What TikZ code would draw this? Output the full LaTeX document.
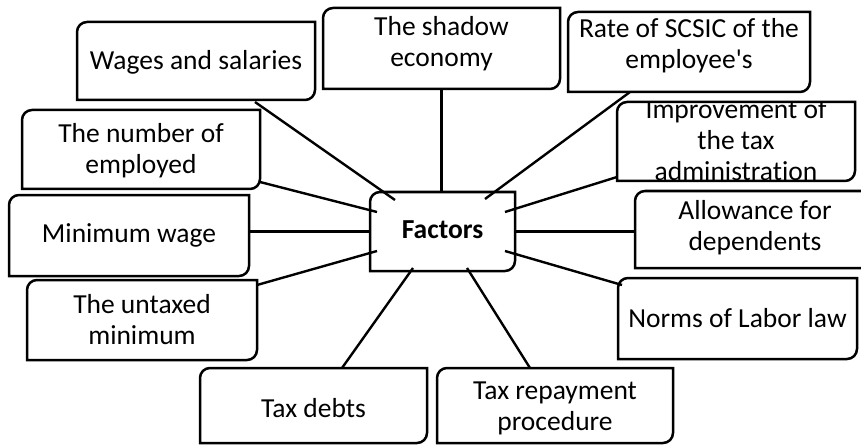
\documentclass[tikz,border=0pt]{standalone}
\usepackage{fontspec}
\setmainfont{Carlito}[Ligatures={TeX,NoCommon}]
\begin{document}
\begin{tikzpicture}[x=1pt,y=1pt,
  frame/.style={rectangle,inner sep=0pt,outer sep=0pt},
  frameline/.style={line width=2.5pt,line join=miter},
  link/.style={line width=2.4pt},
  txt/.style={inner sep=0pt,align=center,font=\fontsize{27.5}{31}\selectfont}]
\newcommand\cornerR{10pt}
% outline with the top-left and bottom-right corners rounded
\newcommand\rdbox[1]{%
  \draw[frameline] ([xshift=\cornerR]#1.north west) -- (#1.north east)
    -- ([yshift=\cornerR]#1.south east) arc[start angle=0,end angle=-90,radius=\cornerR]
    -- (#1.south west) -- ([yshift=-\cornerR]#1.north west)
    arc[start angle=180,end angle=90,radius=\cornerR] -- cycle;}
\useasboundingbox (0,0) rectangle (861,445);

% boxes
\node[frame,minimum width=238pt,minimum height=78pt] (wages)    at (196,384)   {};
\node[frame,minimum width=237pt,minimum height=81pt] (shadow)   at (441.5,396.5) {};
\node[frame,minimum width=242pt,minimum height=80pt] (rate)     at (689,393)   {};
\node[frame,minimum width=238pt,minimum height=79pt] (imp)      at (736,303.5) {};
\node[frame,minimum width=240pt,minimum height=77pt] (allow)    at (755,215.5) {};
\node[frame,minimum width=239pt,minimum height=81pt] (norms)    at (737.5,126.5) {};
\node[frame,minimum width=236pt,minimum height=75pt] (repay)    at (555,39.5)  {};
\node[frame,minimum width=227pt,minimum height=75pt] (debts)    at (313.5,39.5) {};
\node[frame,minimum width=230pt,minimum height=80pt] (untaxed)  at (142,125)   {};
\node[frame,minimum width=240pt,minimum height=81pt] (minwage)  at (129,209.5) {};
\node[frame,minimum width=238pt,minimum height=79pt] (employed) at (141,295.5) {};
\node[frame,minimum width=145pt,minimum height=79pt] (factors)  at (442.5,213.5) {};

% texts
\node[txt] (wages-t)    at ([yshift=-1pt]wages)    {Wages and salaries};
\node[txt] (shadow-t)   at ([yshift=5pt]shadow)    {The shadow\\economy};
\node[txt] (rate-t)     at ([yshift=6pt]rate)      {Rate of SCSIC of the\\employee\textquotesingle s};
\begin{scope}
  \clip (imp.south west) rectangle (imp.north east);
  \node[txt] (imp-t) at ([yshift=1pt]imp) {Improvement of\\the tax\\administration};
\end{scope}
\node[txt] (allow-t)    at ([yshift=2pt]allow)     {Allowance for\\dependents};
\node[txt] (norms-t)    at (norms)                 {Norms of Labor law};
\node[txt] (repay-t)    at ([yshift=-3pt]repay)    {Tax repayment\\procedure};
\node[txt] (debts-t)    at ([yshift=-3pt]debts)    {Tax debts};
\node[txt] (untaxed-t)  at (untaxed)               {The untaxed\\minimum};
\node[txt] (minwage-t)  at (minwage)               {Minimum wage};
\node[txt] (employed-t) at ([yshift=-1pt]employed) {The number of\\employed};
\node[txt,font=\fontsize{27.5}{31}\selectfont\bfseries] (factors-t) at ([yshift=2pt]factors) {Factors};

% outlines
\foreach \b in {wages,shadow,rate,imp,allow,norms,repay,debts,untaxed,minwage,employed,factors}
  {\rdbox{\b}}

% connectors
\draw[link] ([xshift=59pt,yshift=-2pt]wages.south) -- ([xshift=25pt,yshift=-8pt]factors.north west);
\draw[link] ([yshift=7pt]employed.south east) -- ([xshift=7pt,yshift=-20pt]factors.north west);
\draw[link] (shadow.south) -- (shadow.south |- factors.north);
\draw[link] ([xshift=-59pt]rate.south) -- ([xshift=-30pt,yshift=-7pt]factors.north east);
\draw[link] ([yshift=4pt]imp.south west) -- ([xshift=-10pt,yshift=-20pt]factors.north east);
\draw[link] (minwage.east |- factors.west) -- (factors.west);
\draw[link] ([yshift=-5pt]untaxed.north east) -- ([xshift=7pt,yshift=20pt]factors.south west);
\draw[link] ([xshift=28.5pt]debts.north) -- ([xshift=43pt,yshift=3pt]factors.south west);
\draw[link] (factors.east) -- (factors.east -| allow.west);
\draw[link] ([xshift=-10pt,yshift=20pt]factors.south east) -- ([xshift=4pt,yshift=-7pt]norms.north west);
\draw[link] ([xshift=24.5pt,yshift=3pt]factors.south) -- ([xshift=-25pt]repay.north);
\end{tikzpicture}
\end{document}
